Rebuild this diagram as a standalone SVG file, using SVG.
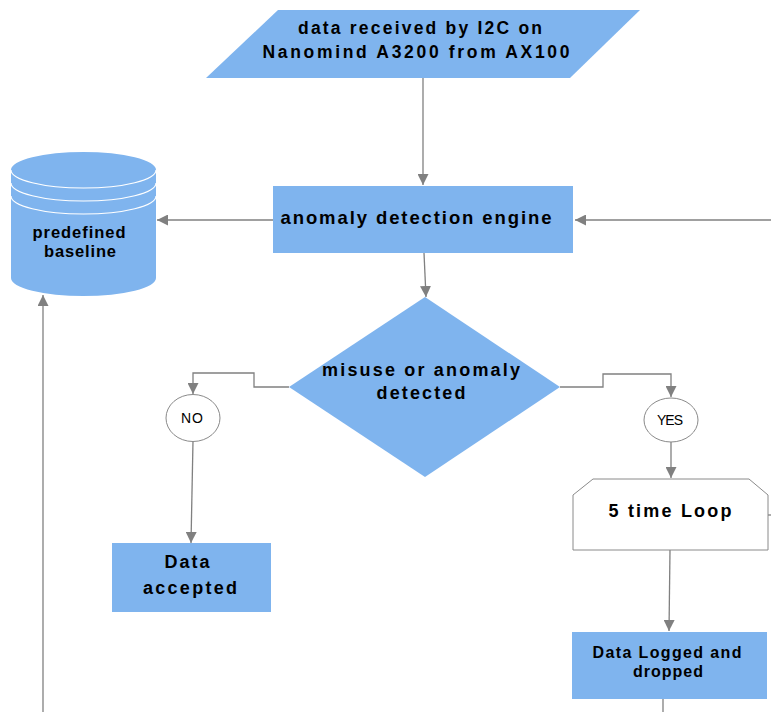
<svg xmlns="http://www.w3.org/2000/svg" width="771" height="712" viewBox="0 0 771 712">
<defs>
<style>
.fill{fill:#7FB4EE;}
.t{font-family:"Liberation Sans",Arial,sans-serif;font-weight:bold;fill:#000;text-anchor:middle;}
.n{font-family:"Liberation Sans",Arial,sans-serif;fill:#000;text-anchor:middle;font-size:14px;}
.c{fill:none;stroke:#808080;stroke-width:1.3;}
.circ{fill:#fff;stroke:#8a8a8a;stroke-width:1;}
</style>
<marker id="ah" viewBox="0 0 10 10" refX="10" refY="5" markerWidth="11" markerHeight="11" markerUnits="userSpaceOnUse" orient="auto">
<path d="M0,0 L10,5 L0,10 z" fill="#808080"/>
</marker>
</defs>
<rect width="771" height="712" fill="#fff"/>

<g id="connectors">
<path class="c" d="M423,78 L423,185" marker-end="url(#ah)"/>
<path class="c" d="M771,220 L575,220" marker-end="url(#ah)"/>
<path class="c" d="M273,220 L157,220" marker-end="url(#ah)"/>
<path class="c" d="M43,712 L43,295" marker-end="url(#ah)"/>
<path class="c" d="M424,253 L426,297" marker-end="url(#ah)"/>
<path class="c" d="M289,387 L254,387 L254,373 L193,373 L193,394" marker-end="url(#ah)"/>
<path class="c" d="M193,441 L191,543" marker-end="url(#ah)"/>
<path class="c" d="M560,387 L603,387 L603,374 L671,374 L671,397" marker-end="url(#ah)"/>
<path class="c" d="M671,442 L671,478" marker-end="url(#ah)"/>
<path class="c" d="M670,550 L669,631" marker-end="url(#ah)"/>
<path class="c" d="M663,699 L663,712"/>
<path class="c" d="M768,515 L771,515"/>
<path d="M473,229 L483,226 L481,229 L483,232 z" fill="#808080"/>
</g>

<g id="input">
<polygon class="fill" points="278,10 640,10 570,78 206,78"/>
<text class="t" x="420" y="34" font-size="17.5" textLength="244" lengthAdjust="spacing">data received by I2C on</text>
<text class="t" x="416" y="58" font-size="17.5" textLength="307" lengthAdjust="spacing">Nanomind A3200 from AX100</text>
</g>

<g id="engine">
<rect class="fill" x="273" y="186" width="300" height="67"/>
<text class="t" x="416" y="224" font-size="18.5" textLength="271" lengthAdjust="spacing">anomaly detection engine</text>
</g>

<g id="baseline">
<path class="fill" d="M11,170 A72.5,18 0 0 1 156,170 L156,278 A72.5,18 0 0 1 11,278 Z"/>
<path d="M11,170 A72.5,18 0 0 0 156,170" fill="none" stroke="#fff" stroke-width="1.2"/>
<path d="M11,183 A72.5,18 0 0 0 156,183" fill="none" stroke="#fff" stroke-width="1.2"/>
<path d="M11,196 A72.5,18 0 0 0 156,196" fill="none" stroke="#fff" stroke-width="1.2"/>
<text class="t" x="79" y="238" font-size="16.5" textLength="93" lengthAdjust="spacing">predefined</text>
<text class="t" x="80" y="257" font-size="16.5" textLength="72" lengthAdjust="spacing">baseline</text>
</g>

<g id="decision">
<polygon class="fill" points="425,297 560,387 425,477 289,387"/>
<text class="t" x="421" y="376" font-size="18" textLength="198" lengthAdjust="spacing">misuse or anomaly</text>
<text class="t" x="421" y="399" font-size="18" textLength="89" lengthAdjust="spacing">detected</text>
</g>

<g id="no">
<ellipse class="circ" cx="193" cy="418" rx="27" ry="23.5"/>
<text class="n" x="192" y="423" textLength="22" lengthAdjust="spacing">NO</text>
</g>

<g id="yes">
<ellipse class="circ" cx="671" cy="420" rx="27" ry="22"/>
<text class="n" x="670" y="425" textLength="26" lengthAdjust="spacing">YES</text>
</g>

<g id="accepted">
<rect class="fill" x="112" y="543" width="159" height="69"/>
<text class="t" x="187" y="568" font-size="18" textLength="45" lengthAdjust="spacing">Data</text>
<text class="t" x="190" y="594" font-size="18" textLength="94" lengthAdjust="spacing">accepted</text>
</g>

<g id="loop">
<polygon points="593,479 749,479 768,495 768,550 573,550 573,495" fill="#fff" stroke="#8a8a8a" stroke-width="1"/>
<text class="t" x="670" y="517" font-size="18" textLength="123" lengthAdjust="spacing">5 time Loop</text>
</g>

<g id="logged">
<rect class="fill" x="572" y="632" width="195" height="67"/>
<text class="t" x="667" y="658" font-size="16" textLength="149" lengthAdjust="spacing">Data Logged and</text>
<text class="t" x="668" y="677" font-size="16" textLength="70" lengthAdjust="spacing">dropped</text>
</g>
</svg>
